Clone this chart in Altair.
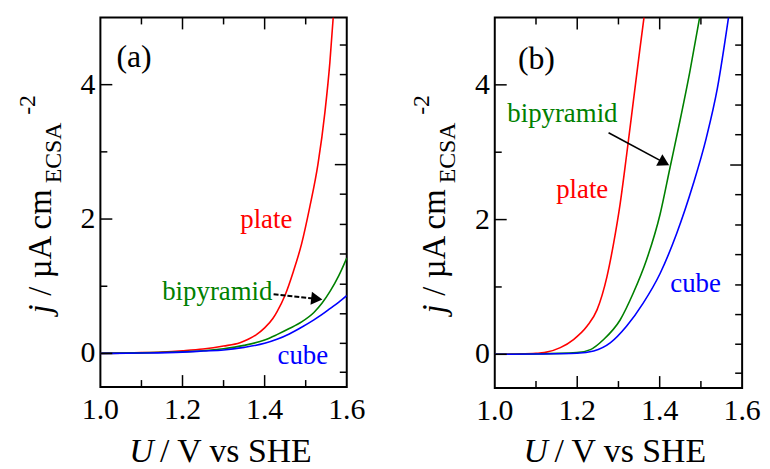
import altair as alt
import pandas as pd

FONT = "Liberation Serif"

# ---------------- panel (a) data ----------------
a_plate_U = [1.00, 1.05, 1.10, 1.15, 1.20, 1.25, 1.30, 1.34, 1.36, 1.38, 1.40, 1.42, 1.43, 1.45, 1.47, 1.49, 1.51, 1.53, 1.547, 1.559, 1.567]
a_plate_j = [0.0, 0.005, 0.012, 0.022, 0.04, 0.065, 0.11, 0.16, 0.21, 0.28, 0.38, 0.52, 0.62, 0.87, 1.22, 1.63, 2.18, 2.82, 3.60, 4.34, 5.0]

a_bipy_U = [1.00, 1.10, 1.20, 1.25, 1.30, 1.35, 1.40, 1.43, 1.46, 1.49, 1.52, 1.54, 1.56, 1.58, 1.60]
a_bipy_j = [0.0, 0.008, 0.025, 0.04, 0.07, 0.12, 0.20, 0.28, 0.37, 0.47, 0.61, 0.75, 0.93, 1.15, 1.42]

a_cube_U = [1.00, 1.10, 1.20, 1.25, 1.30, 1.35, 1.40, 1.43, 1.46, 1.49, 1.52, 1.54, 1.56, 1.58, 1.60]
a_cube_j = [0.0, 0.006, 0.02, 0.035, 0.05, 0.09, 0.15, 0.21, 0.29, 0.39, 0.50, 0.58, 0.67, 0.76, 0.86]

# ---------------- panel (b) data ----------------
b_plate_U = [1.00, 1.05, 1.10, 1.12, 1.159, 1.191, 1.224, 1.248, 1.272, 1.288, 1.304, 1.320, 1.336, 1.352, 1.362]
b_plate_j = [0.0, 0.005, 0.015, 0.025, 0.10, 0.22, 0.42, 0.66, 1.15, 1.64, 2.23, 2.97, 3.75, 4.53, 5.0]

b_bipy_U = [1.00, 1.10, 1.199, 1.232, 1.264, 1.304, 1.336, 1.368, 1.401, 1.425, 1.449, 1.473, 1.497]
b_bipy_j = [0.0, 0.005, 0.025, 0.07, 0.22, 0.51, 0.91, 1.40, 2.08, 2.77, 3.46, 4.19, 5.0]

b_cube_U = [1.00, 1.10, 1.199, 1.240, 1.280, 1.320, 1.360, 1.401, 1.441, 1.481, 1.513, 1.540, 1.567]
b_cube_j = [0.0, 0.004, 0.015, 0.05, 0.17, 0.42, 0.76, 1.20, 1.79, 2.52, 3.21, 3.95, 5.0]

# ---------------- annotations (data coordinates) ----------------
a_labels = [  # text, U, j, color, align
    ("plate", 1.404, 1.87, "#ff0000", "center"),
    ("bipyramid", 1.419, 0.80, "#008000", "right"),
    ("cube", 1.493, -0.16, "#0000ff", "center"),
]
b_labels = [
    ("plate", 1.212, 2.32, "#ff0000", "center"),
    ("bipyramid", 1.164, 3.45, "#008000", "center"),
    ("cube", 1.487, 0.93, "#0000ff", "center"),
]
a_tag = ("(a)", 1.082, 4.26)
b_tag = ("(b)", 1.101, 4.24)

a_arrow_U = [1.4218, 1.527]
a_arrow_j = [0.88, 0.811]
a_head_angle = 6.4
b_arrow_U = [1.276, 1.411]
b_arrow_j = [3.29, 2.845]
b_head_angle = 28.4

# ---------------- axes ----------------
x_label_vals = [1.0, 1.2, 1.4, 1.6]
x_label_text = ["1.0", "1.2", "1.4", "1.6"]
y_label_vals = [0, 2, 4]
y_label_text = ["0", "2", "4"]
x_major = [1.2, 1.4]
x_minor = [1.1, 1.3, 1.5]
y_major = [0, 2, 4]
y_minor = [1, 3]
right_minor = [-0.28, 0.15, 0.59, 1.03, 1.48, 1.92, 2.37, 3.26, 3.70, 4.15, 4.59]
right_major = [2.81]

X_DOMAIN = [1.0, 1.6]
Y_DOMAIN = [-0.5, 5.0]


def panel(curves, labels, tag, arrow_U, arrow_j, head_angle, dashed, W, H):
    xs = alt.Scale(domain=X_DOMAIN, nice=False, zero=False)
    ys = alt.Scale(domain=Y_DOMAIN, nice=False, zero=False)
    X = lambda f: alt.X(f, scale=xs, axis=None)
    Y = lambda f: alt.Y(f, scale=ys, axis=None)
    layers = []
    for U, J, color in curves:
        df = pd.DataFrame({"U": U, "j": J})
        layers.append(
            alt.Chart(df).mark_line(color=color, strokeWidth=1.6, clip=True, interpolate="monotone").encode(
                x=X("U:Q"), y=Y("j:Q"))
        )

    def xt(vals, y0, y1):
        return alt.Chart(pd.DataFrame({"v": vals})).mark_rule(color="black", strokeWidth=1.5).encode(
            x=X("v:Q"), y=alt.value(y0), y2=alt.value(y1))

    def yt(vals, x0, x1):
        return alt.Chart(pd.DataFrame({"v": vals})).mark_rule(color="black", strokeWidth=1.5).encode(
            y=Y("v:Q"), x=alt.value(x0), x2=alt.value(x1))

    layers += [
        xt(x_major, H, H - 12), xt(x_minor, H, H - 7),
        xt(x_major, 0, 12), xt(x_minor, 0, 7),
        yt(y_major, 0, 12), yt(y_minor, 0, 7),
        yt(right_minor, W, W - 7), yt(right_major, W, W - 12),
    ]

    # tick labels
    layers.append(alt.Chart(pd.DataFrame({"v": x_label_vals, "t": x_label_text})).mark_text(
        font=FONT, fontSize=30, color="black", align="center", baseline="top").encode(
        x=X("v:Q"), y=alt.value(H + 8), text="t:N"))
    layers.append(alt.Chart(pd.DataFrame({"v": y_label_vals, "t": y_label_text})).mark_text(
        font=FONT, fontSize=30, color="black", align="right", baseline="middle").encode(
        y=Y("v:Q"), x=alt.value(-5), text="t:N"))

    # labels
    for text, u, j, color, align in labels:
        df = pd.DataFrame({"U": [u], "j": [j]})
        layers.append(alt.Chart(df).mark_text(text=text, font=FONT, fontSize=27, color=color,
                                              align=align, baseline="alphabetic").encode(
            x=X("U:Q"), y=Y("j:Q")))
    t, u, j = tag
    layers.append(alt.Chart(pd.DataFrame({"U": [u], "j": [j]})).mark_text(
        text=t, font=FONT, fontSize=32, color="black", align="center", baseline="alphabetic").encode(
        x=X("U:Q"), y=Y("j:Q")))

    # arrow
    adf = pd.DataFrame({"U": arrow_U, "j": arrow_j})
    line_kw = dict(color="black", strokeWidth=2 if dashed else 1.6)
    if dashed:
        line_kw["strokeDash"] = [5, 2]
    layers.append(alt.Chart(adf).mark_line(**line_kw).encode(x=X("U:Q"), y=Y("j:Q")))
    hdf = pd.DataFrame({"U": arrow_U[-1:], "j": arrow_j[-1:]})
    layers.append(alt.Chart(hdf).mark_point(shape="triangle-right", filled=True, size=170,
                                            color="black", opacity=1, angle=head_angle).encode(
        x=X("U:Q"), y=Y("j:Q")))

    # axis titles as rich text
    one = pd.DataFrame({"k": [0]})

    def txt(s, x, y, size, style="normal", angle=0, align="left"):
        kw = dict(text=s, font=FONT, fontSize=size, fontStyle=style, color="black",
                  align=align, baseline="alphabetic")
        if angle:
            kw["angle"] = angle
        return alt.Chart(one).mark_text(**kw).encode(x=alt.value(x), y=alt.value(y))

    layers += [
        txt("j", -50, 298, 33, "italic", 270),
        txt("/ \u00b5A cm", -50, 280, 33, "normal", 270),
        txt("ECSA", -40, 167, 24, "normal", 270),
        txt("-2", -66, 98, 24, "normal", 270),
        txt("U", 29, 447, 34, "italic"),
        txt("/ V vs SHE", 60, 447, 34, "normal"),
    ]
    return alt.layer(*layers).properties(width=W, height=H)


pa = panel([(a_plate_U, a_plate_j, "#ff0000"), (a_bipy_U, a_bipy_j, "#008000"), (a_cube_U, a_cube_j, "#0000ff")],
           a_labels, a_tag, a_arrow_U, a_arrow_j, a_head_angle, True, 248, 372)
pb = panel([(b_plate_U, b_plate_j, "#ff0000"), (b_bipy_U, b_bipy_j, "#008000"), (b_cube_U, b_cube_j, "#0000ff")],
           b_labels, b_tag, b_arrow_U, b_arrow_j, b_head_angle, False, 249, 373)

chart = alt.hconcat(pa, pb, spacing=149, bounds="flush").properties(
    padding={"left": 7, "top": 6, "right": 0, "bottom": 0},
    background="white",
).configure_view(stroke="black", strokeWidth=2)

chart.save("out.html", embed_options={"renderer": "svg", "actions": False})
